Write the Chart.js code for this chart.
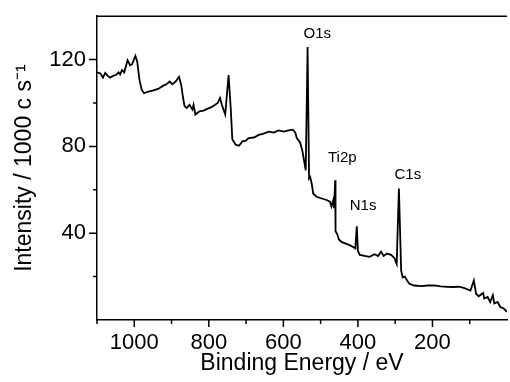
<!DOCTYPE html>
<html>
<head>
<meta charset="utf-8">
<script src="https://cdn.jsdelivr.net/npm/chart.js@4"></script>
<style>
  html, body { margin: 0; padding: 0; background: #fff; }
  #wrap { width: 510px; height: 382px; }
</style>
</head>
<body>
<div id="wrap"><canvas id="xps"></canvas></div>
<script>
// Binding energy (eV) and intensity (1000 c/s)
const energy = [1100, 1091, 1084, 1078, 1072, 1065, 1056, 1049, 1042, 1038, 1033, 1027, 1018, 1011, 1006,
  997, 992, 986, 980, 974, 962, 949, 936, 922, 914, 905, 898, 889, 880, 874, 869, 865, 859, 852, 844, 841,
  836, 825, 814, 803, 794, 785, 776, 770, 765, 756, 747, 741, 737, 728, 719, 710, 701, 693, 679, 666, 653,
  639, 626, 613, 599, 586, 575, 568, 564, 555, 549, 543, 540, 535, 531, 528, 524, 520, 511, 497, 484, 475,
  471, 466, 464, 461, 460, 455, 451, 444, 431, 422, 413, 407, 403, 400, 395, 382, 369, 355, 346, 338, 331,
  322, 311, 302, 296, 290, 284, 280, 274, 268, 262, 249, 230, 213, 195, 178, 160, 142, 130, 116, 98, 89,
  83, 76, 64, 61, 52, 45, 38, 34, 25, 18, 9, 0];
const intensity = [114.1, 113.6, 111.7, 113.9, 112.6, 111.7, 112.6, 112.9, 114.1, 113.2, 115.2, 114.1, 119.7, 117.4, 117.8,
  121.7, 119, 110.6, 106, 104.5, 105.3, 105.8, 106.5, 108, 108.6, 109.9, 108.6, 109.9, 112.1, 108.3, 102.3, 98.5, 97.7, 99.2, 97, 99.2,
  94.7, 96.2, 96.5, 97.4, 98, 99, 100, 102.3, 99.2, 94.7, 112.9, 97, 83.3, 80.8, 80.3, 82.3, 82.6, 83.8, 84.1, 85.3, 85.9,
  86.8, 86.4, 87.4, 86.8, 87.4, 87.7, 86.4, 83.8, 81.8, 78, 72, 69, 125.8, 65.2, 65.9, 62.9, 58.3, 56.8, 56, 55.3, 54.5,
  52.3, 55.3, 51.5, 64.4, 40.9, 39.4, 37.1, 36, 35.1, 34.5, 33.6, 33, 43.2, 31.8, 30, 29.5, 29.1, 30.3, 29.5, 31.5, 29.5,
  30.6, 30, 28.5, 25.8, 60.6, 22.7, 19.7, 20, 18.2, 16.7, 15.9, 15.6, 15.9, 16, 15.5, 15.3, 15.2, 15.4, 14.8, 13.6, 18.2,
  12.1, 10.9, 12.4, 9.9, 10.6, 8.3, 11.4, 7.6, 8.3, 6, 5.3, 3.8];

// peak labels
const peakNames = ['O1s', 'Ti2p', 'N1s', 'C1s'];
const peakX = [509, 442, 386, 266];
const peakY = [129.9, 72.7, 50.8, 64.9];

const xMajor = [200, 400, 600, 800, 1000];
const xMinor = [100, 300, 500, 700, 900, 1100];
const yMajor = [40, 80, 120];
const yMinor = [20, 60, 100];

Chart.defaults.font.family = '"Liberation Sans", Arial, sans-serif';
Chart.defaults.color = '#000';

// ticks, top frame and peak labels
const decor = {
  id: 'decor',
  afterDraw(chart) {
    const { ctx, chartArea: a, scales: { x, y } } = chart;
    ctx.save();
    ctx.strokeStyle = '#000';
    ctx.lineWidth = 1.5;
    ctx.beginPath();
    ctx.moveTo(a.left, a.top);
    ctx.lineTo(a.right, a.top);
    xMajor.forEach(v => { const p = x.getPixelForValue(v); ctx.moveTo(p, a.bottom); ctx.lineTo(p, a.bottom + 7); });
    xMinor.forEach(v => { const p = x.getPixelForValue(v); ctx.moveTo(p, a.bottom); ctx.lineTo(p, a.bottom + 4); });
    yMajor.forEach(v => { const p = y.getPixelForValue(v); ctx.moveTo(a.left, p); ctx.lineTo(a.left - 8, p); });
    yMinor.forEach(v => { const p = y.getPixelForValue(v); ctx.moveTo(a.left, p); ctx.lineTo(a.left - 4, p); });
    ctx.stroke();

    ctx.fillStyle = '#000';
    ctx.font = '15px "Liberation Sans", Arial, sans-serif';
    ctx.textAlign = 'center';
    ctx.textBaseline = 'alphabetic';
    peakNames.forEach((t, i) => {
      ctx.fillText(t, x.getPixelForValue(peakX[i]), y.getPixelForValue(peakY[i]));
    });
    ctx.restore();
  }
};

new Chart(document.getElementById('xps'), {
  type: 'line',
  data: {
    datasets: [{
      data: energy.map((e, i) => ({ x: e, y: intensity[i] })),
      borderColor: '#000',
      borderWidth: 1.8,
      pointRadius: 0,
      tension: 0,
      fill: false,
    }],
  },
  options: {
    responsive: true,
    maintainAspectRatio: false,
    animation: false,
    layout: { padding: { top: 12, right: 0, left: 0, bottom: 0 } },
    plugins: { legend: { display: false }, tooltip: { enabled: false } },
    scales: {
      x: {
        type: 'linear',
        reverse: true,
        min: 0,
        max: 1100,
        afterFit: (s) => { s.height = 62; },
        border: { display: true, color: '#000', width: 1.5 },
        grid: { display: true, drawOnChartArea: false, drawTicks: true, tickLength: 7, color: 'rgba(0,0,0,0)' },
        ticks: {
          stepSize: 100,
          autoSkip: false,
          maxRotation: 0,
          padding: 3,
          font: { size: 22 },
          callback: (v) => (v % 200 === 0 && v !== 0 ? v : ''),
        },
        title: { display: true, text: 'Binding Energy / eV', font: { size: 23 }, padding: { top: 0, bottom: 5 } },
      },
      y: {
        min: 0,
        max: 140,
        afterFit: (s) => { s.width = 97; },
        border: { display: true, color: '#000', width: 1.5 },
        grid: { display: true, drawOnChartArea: false, drawTicks: true, tickLength: 8, color: 'rgba(0,0,0,0)' },
        ticks: {
          stepSize: 20,
          padding: 3,
          font: { size: 22 },
          callback: (v) => (v % 40 === 0 && v !== 0 ? v : ''),
        },
        title: { display: true, text: 'Intensity / 1000 c s⁻¹', font: { size: 23 }, padding: { top: 11, bottom: 0 } },
      },
    },
  },
  plugins: [decor],
});
</script>
</body>
</html>
